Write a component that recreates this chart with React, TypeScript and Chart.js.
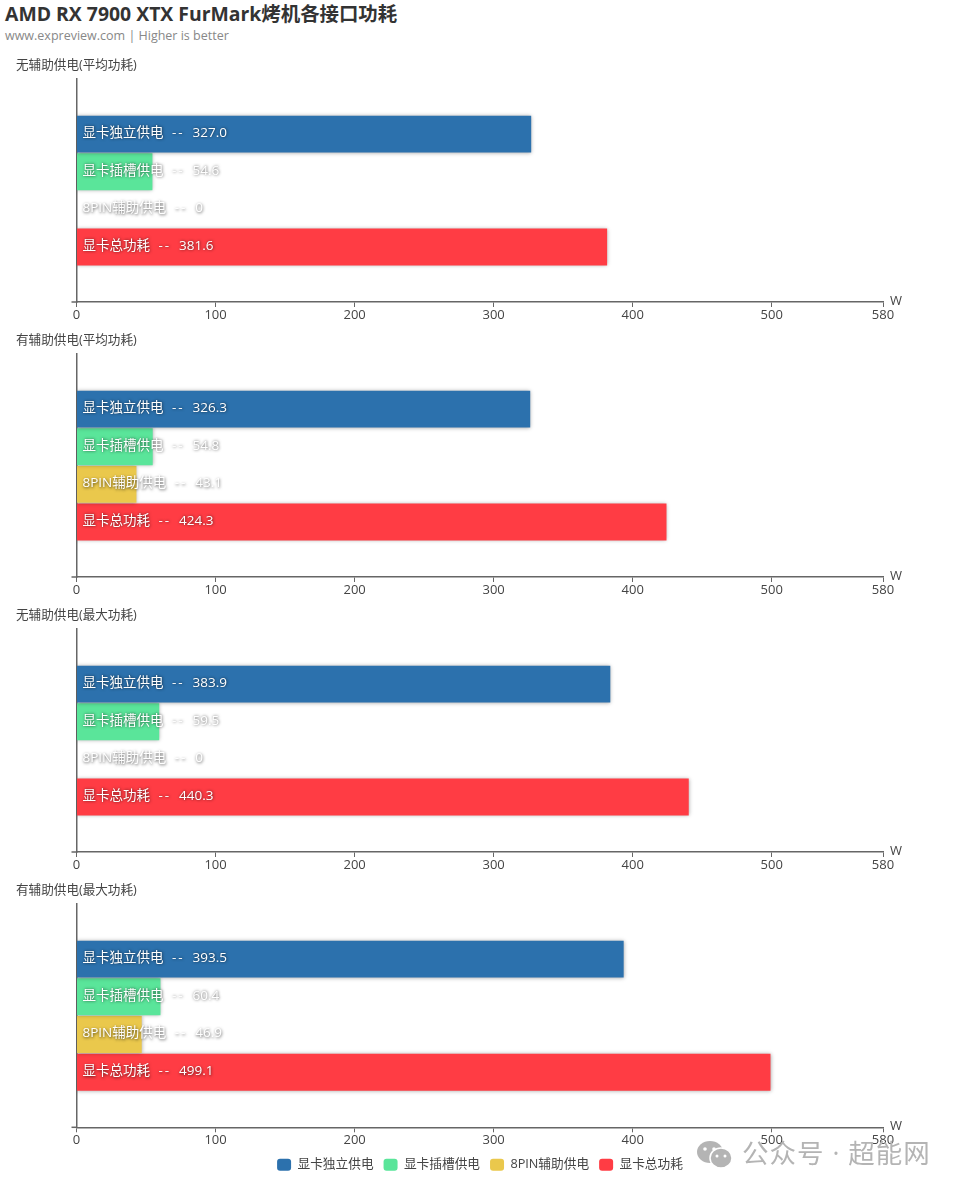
import React, { useEffect, useRef } from "react";
import { Chart, registerables } from "chart.js";

Chart.register(...registerables);

const seriesNames = ["显卡独立供电", "显卡插槽供电", "8PIN辅助供电", "显卡总功耗"];
const seriesColors = ["#2c71ad", "#5ae59a", "#eac84c", "#ff3c44"];
const panelTitles = ["无辅助供电(平均功耗)", "有辅助供电(平均功耗)", "无辅助供电(最大功耗)", "有辅助供电(最大功耗)"];
const panelA = [327.0, 54.6, 0, 381.6];
const panelB = [326.3, 54.8, 43.1, 424.3];
const panelC = [383.9, 59.5, 0, 440.3];
const panelD = [393.5, 60.4, 46.9, 499.1];
const panelValues = [panelA, panelB, panelC, panelD];
const xTicks = [0, 100, 200, 300, 400, 500, 580];
const axisMax = 580;
const unit = "W";

const FONT = '"Open Sans", "Noto Sans CJK SC", sans-serif';
const AXIS = "#666666";
const TEXT = "#444444";
const panelTops = [56, 331, 606, 881];

const decorPlugin = {
  id: "decor",
  beforeDatasetDraw(chart: any) {
    const c = chart.ctx;
    c.save();
    c.shadowColor = "rgba(0,0,0,0.35)";
    c.shadowBlur = 4;
  },
  afterDatasetDraw(chart: any) {
    chart.ctx.restore();
  },
  afterDatasetsDraw(chart: any) {
    const c = chart.ctx;
    const sx = chart.scales.x;
    c.save();
    c.font = `13.5px ${FONT}`;
    c.textBaseline = "middle";
    c.textAlign = "left";
    chart.data.datasets.forEach((ds: any, i: number) => {
      const el = chart.getDatasetMeta(i).data[0];
      const v = ds.data[0];
      const x0 = sx.getPixelForValue(0) + 6;
      const y = el.y - 1;
      c.shadowColor = "rgba(0,0,0,0.7)";
      c.shadowBlur = 3;
      c.shadowOffsetX = 0.5;
      c.shadowOffsetY = 0.5;
      c.fillStyle = "#ffffff";
      c.letterSpacing = "0px";
      c.fillText(ds.label, x0, y);
      const nameEnd = x0 + c.measureText(ds.label).width;
      c.fillText(v === 0 ? "0" : v.toFixed(1), nameEnd + 29, y);
      c.letterSpacing = "2px";
      c.fillText("--", nameEnd + 8.5, y);
      c.letterSpacing = "0px";
    });
    c.restore();
    const b = chart.chartArea.bottom;
    c.save();
    c.strokeStyle = AXIS;
    c.lineWidth = 1.5;
    c.beginPath();
    c.moveTo(sx.left - 5, b);
    c.lineTo(sx.left, b);
    c.stroke();
    c.fillStyle = TEXT;
    c.font = `13px ${FONT}`;
    c.textBaseline = "middle";
    c.textAlign = "left";
    c.fillText(unit, sx.right + 7, b - 1);
    c.restore();
  },
};

const legendShift = {
  id: "legendShift",
  afterLayout(chart: any) {
    if (chart.legend && chart.options.plugins.legend.display) {
      chart.legend.left += 30.5;
      chart.legend.right += 30.5;
      chart.legend.top -= 8;
      chart.legend.bottom -= 8;
    }
  },
};

function Panel({ index }: { index: number }) {
  const ref = useRef<HTMLCanvasElement>(null);
  const isLast = index === panelValues.length - 1;
  const height = isLast ? 312 : 275;
  useEffect(() => {
    const chart = new Chart(ref.current as HTMLCanvasElement, {
      type: "bar",
      data: {
        labels: [panelTitles[index]],
        datasets: seriesNames.map((name, i) => ({
          label: name,
          data: [panelValues[index][i]],
          backgroundColor: seriesColors[i],
          barPercentage: 0.98,
          categoryPercentage: 0.675,
        })),
      },
      plugins: [decorPlugin, legendShift],
      options: {
        indexAxis: "y",
        animation: false,
        responsive: false,
        layout: { padding: { left: 16, right: 77, top: 0, bottom: isLast ? 4 : 0 } },
        scales: {
          x: {
            type: "linear",
            min: 0,
            max: axisMax,
            afterBuildTicks(axis: any) {
              axis.ticks = xTicks.map((value) => ({ value }));
            },
            afterFit(axis: any) {
              axis.height = 29;
            },
            grid: { display: true, drawOnChartArea: false, drawTicks: true, tickLength: 5, color: AXIS, lineWidth: 1 },
            border: { display: true, color: AXIS, width: 1.5 },
            ticks: {
              color: TEXT,
              font: { family: FONT, size: 13 },
              padding: 0,
              autoSkip: false,
              maxRotation: 0,
              callback: (v: any) => String(v),
            },
          },
          y: {
            type: "category",
            afterFit(axis: any) {
              axis.width = 60.5;
            },
            grid: { display: false },
            border: { display: true, color: AXIS, width: 1.5 },
            ticks: { display: false },
          },
        },
        plugins: {
          tooltip: { enabled: false },
          title: {
            display: true,
            text: panelTitles[index],
            align: "start",
            color: TEXT,
            font: { family: FONT, size: 12.6, weight: "normal", lineHeight: 1.2 },
            padding: { top: 2, bottom: 5.9 },
          },
          legend: {
            display: isLast,
            position: "bottom",
            labels: {
              color: TEXT,
              font: { family: FONT, size: 12.7 },
              boxWidth: 14,
              boxHeight: 12,
              padding: 10,
              useBorderRadius: true,
              borderRadius: 3,
            },
          },
        },
      },
    } as any);
    return () => chart.destroy();
  }, [index]);
  return (
    <canvas
      ref={ref}
      width={960}
      height={height}
      style={{ position: "absolute", left: 0, top: panelTops[index], width: 960, height }}
    />
  );
}

export default function App() {
  return (
    <div style={{ position: "absolute", left: 0, top: 0, width: 960, height: 1193, background: "#fff", overflow: "hidden", fontFamily: FONT }}>
      <div style={{ position: "absolute", left: 5, top: 2, fontSize: 19.4, fontWeight: 700, color: "#333", whiteSpace: "nowrap", lineHeight: "24px" }}>
        AMD RX 7900 XTX FurMark烤机各接口功耗
      </div>
      <div style={{ position: "absolute", left: 5, top: 27, fontSize: 12.5, color: "#888", whiteSpace: "nowrap", lineHeight: "18px" }}>
        www.expreview.com | Higher is better
      </div>
      {panelValues.map((_, i) => (
        <Panel key={i} index={i} />
      ))}
      <div style={{ position: "absolute", left: 742, top: 1137, fontSize: 26.5, color: "#b4b4b4", whiteSpace: "nowrap", lineHeight: "32px", letterSpacing: 1 }}>
        公众号 · 超能网
      </div>
      <svg width="36" height="30" viewBox="0 0 36 30" style={{ position: "absolute", left: 697, top: 1140 }}>
        <ellipse cx="13" cy="12" rx="13" ry="11" fill="#b4b4b4" />
        <circle cx="8" cy="9" r="1.8" fill="#fff" />
        <circle cx="17" cy="9" r="1.8" fill="#fff" />
        <ellipse cx="24" cy="18" rx="11" ry="10" fill="#b4b4b4" stroke="#fff" strokeWidth="1.5" />
        <circle cx="20" cy="16" r="1.5" fill="#fff" />
        <circle cx="28" cy="16" r="1.5" fill="#fff" />
      </svg>
    </div>
  );
}
